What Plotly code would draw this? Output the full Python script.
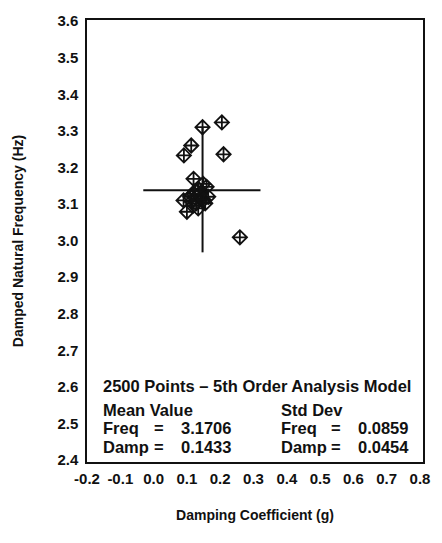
import plotly.graph_objects as go

# Simulated modal estimates (damping coefficient vs. damped natural frequency)
damping = [0.147, 0.205, 0.113, 0.091, 0.210, 0.259,
           0.100, 0.120, 0.159, 0.164, 0.090, 0.120,
           0.134, 0.143, 0.128, 0.149, 0.114, 0.134,
           0.155, 0.110, 0.125, 0.140, 0.118, 0.150]
frequency = [3.310, 3.323, 3.260, 3.233, 3.236, 3.009,
             3.079, 3.169, 3.147, 3.120, 3.110, 3.128,
             3.142, 3.115, 3.102, 3.155, 3.107, 3.088,
             3.102, 3.120, 3.135, 3.128, 3.095, 3.112]

# Crosshair through the cluster centre
cross_damp = 0.147
cross_freq = 3.138
cross_damp_span = [-0.031, 0.321]
cross_freq_span = [2.968, 3.310]

# Summary statistics
n_points = 2500
mean_freq, mean_damp = 3.1706, 0.1433
std_freq, std_damp = 0.0859, 0.0454

x_ticks = [-0.2, -0.1, 0.0, 0.1, 0.2, 0.3, 0.4, 0.5, 0.6, 0.7, 0.8]
y_ticks = [2.4, 2.5, 2.6, 2.7, 2.8, 2.9, 3.0, 3.1, 3.2, 3.3, 3.4, 3.5, 3.6]

FONT = "Liberation Sans, Arial, sans-serif"
INK = "#111111"

fig = go.Figure()

fig.add_trace(go.Scatter(
    x=cross_damp_span, y=[cross_freq, cross_freq], mode="lines",
    line=dict(color=INK, width=2), showlegend=False, hoverinfo="skip"))
fig.add_trace(go.Scatter(
    x=[cross_damp, cross_damp], y=cross_freq_span, mode="lines",
    line=dict(color=INK, width=2), showlegend=False, hoverinfo="skip"))

fig.add_trace(go.Scatter(
    x=damping, y=frequency, mode="markers",
    marker=dict(symbol="diamond-cross-open", size=11, color=INK,
                line=dict(color=INK, width=1.8)),
    showlegend=False))

ann_font = dict(family=FONT, size=16.5, color=INK, weight="bold")


def label(x, y, text, anchor="left"):
    fig.add_annotation(x=x, y=y, xref="x", yref="y", text=text,
                       showarrow=False, xanchor=anchor, yanchor="middle",
                       font=ann_font)


# Statistics block in the lower part of the plot
label(-0.159, 2.603, f"{n_points} Points \u2013 5th Order Analysis Model")
label(-0.159, 2.538, "Mean Value")
label(0.377, 2.538, "Std Dev")

label(-0.159, 2.487, "Freq")
label(0.016, 2.487, "=", "center")
label(0.075, 2.487, f"{mean_freq:.4f}")
label(-0.159, 2.436, "Damp")
label(0.016, 2.436, "=", "center")
label(0.075, 2.436, f"{mean_damp:.4f}")

label(0.377, 2.487, "Freq")
label(0.548, 2.487, "=", "center")
label(0.607, 2.487, f"{std_freq:.4f}")
label(0.377, 2.436, "Damp")
label(0.548, 2.436, "=", "center")
label(0.607, 2.436, f"{std_damp:.4f}")

tick_font = dict(family=FONT, size=15, color=INK, weight="bold")
title_font = dict(family=FONT, size=14, color=INK, weight="bold")

fig.update_layout(
    width=442, height=543,
    margin=dict(l=87, r=14, t=14, b=81),
    paper_bgcolor="white", plot_bgcolor="white",
    font=dict(family=FONT, size=14, color=INK),
    xaxis=dict(
        range=[-0.2, 0.809], tickvals=x_ticks,
        ticktext=[f"{v:.1f}" for v in x_ticks],
        tickfont=tick_font,
        showgrid=False, zeroline=False, showline=True, linecolor=INK,
        linewidth=1.5, mirror=True, ticks="", ticklabelstandoff=2,
        title=dict(text="Damping Coefficient (g)", font=title_font,
                   standoff=24)),
    yaxis=dict(
        range=[2.395, 3.603], tickvals=y_ticks,
        ticktext=[f"{v:.1f}" for v in y_ticks],
        tickfont=tick_font,
        showgrid=False, zeroline=False, showline=True, linecolor=INK,
        linewidth=1.5, mirror=True, ticks="", ticklabelstandoff=4,
        title=dict(text="Damped Natural Frequency (Hz)", font=title_font,
                   standoff=30)),
)

fig.write_html("out.html")
